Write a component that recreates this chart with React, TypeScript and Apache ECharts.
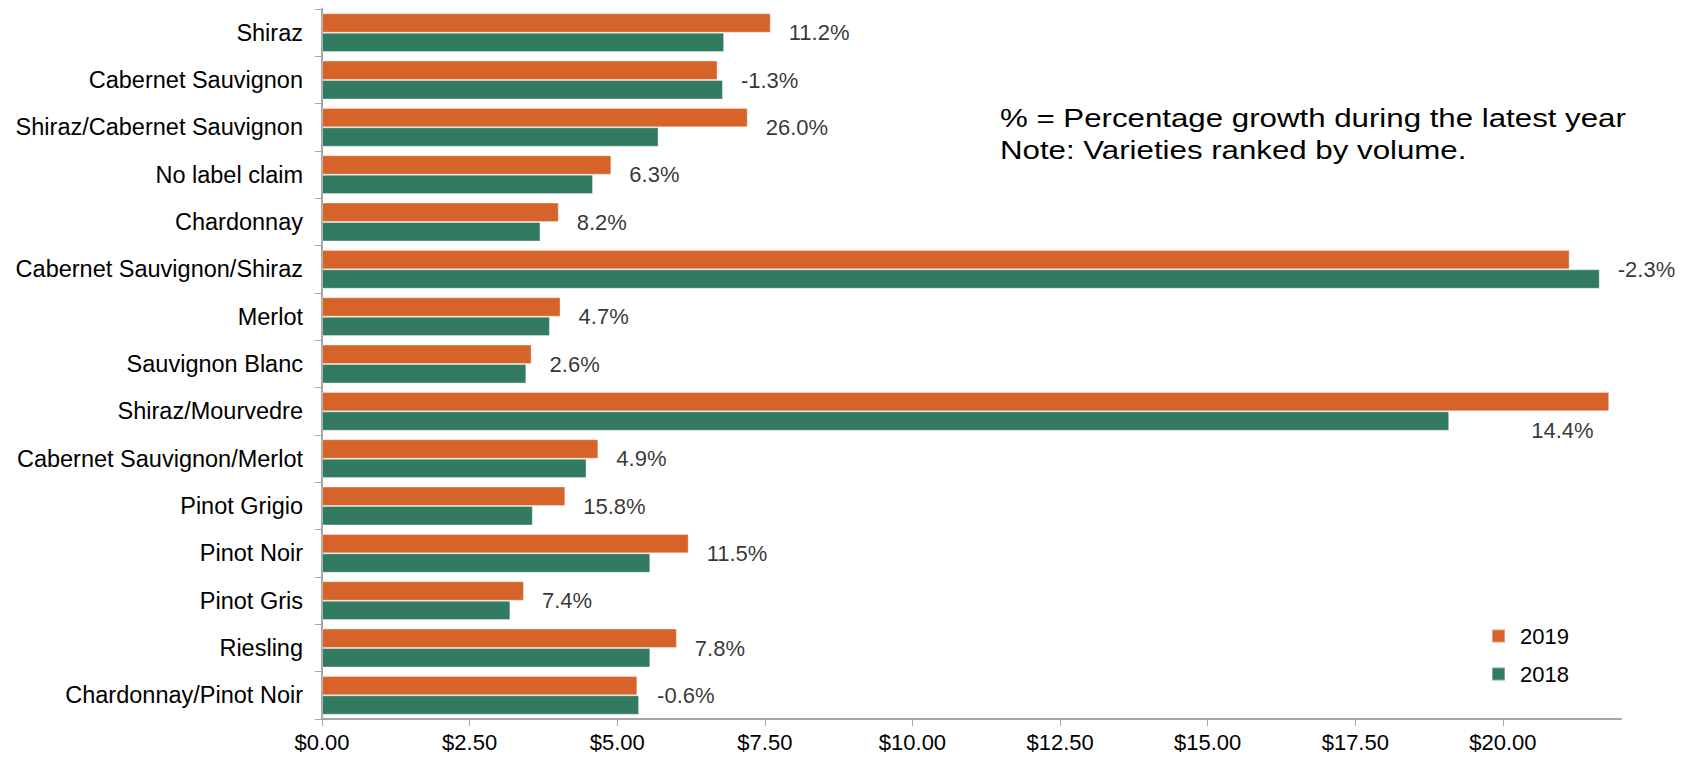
import React, { useEffect, useRef } from "react";
import * as echarts from "echarts";

const categories = [
  "Shiraz",
  "Cabernet Sauvignon",
  "Shiraz/Cabernet Sauvignon",
  "No label claim",
  "Chardonnay",
  "Cabernet Sauvignon/Shiraz",
  "Merlot",
  "Sauvignon Blanc",
  "Shiraz/Mourvedre",
  "Cabernet Sauvignon/Merlot",
  "Pinot Grigio",
  "Pinot Noir",
  "Pinot Gris",
  "Riesling",
  "Chardonnay/Pinot Noir",
];

const values2019 = [7.6, 6.7, 7.21, 4.9, 4.01, 21.13, 4.04, 3.55, 21.8, 4.68, 4.12, 6.21, 3.42, 6.01, 5.34];
const values2018 = [6.81, 6.79, 5.7, 4.59, 3.7, 21.64, 3.86, 3.46, 19.09, 4.48, 3.57, 5.56, 3.19, 5.56, 5.37];
const growthLabels = ["11.2%", "-1.3%", "26.0%", "6.3%", "8.2%", "-2.3%", "4.7%", "2.6%", "14.4%", "4.9%", "15.8%", "11.5%", "7.4%", "7.8%", "-0.6%"];

const xTicks = [0, 2.5, 5, 7.5, 10, 12.5, 15, 17.5, 20];
const seriesNames = ["2019", "2018"];
const noteLines = ["% = Percentage growth during the latest year", "Note: Varieties ranked by volume."];

const ORANGE = "#D6632A";
const GREEN = "#327B61";
const FONT = "'Liberation Sans', Arial, Helvetica, sans-serif";

export default function App() {
  const ref = useRef<HTMLDivElement>(null);

  useEffect(() => {
    if (!ref.current) return;
    const chart = echarts.init(ref.current, undefined, { renderer: "svg" });

    const labelPoints = categories.map((c, i) => {
      const item: any = { value: [Math.max(values2019[i], values2018[i]), c] };
      if (c === "Shiraz/Mourvedre") {
        item.label = { offset: [-96, 19] };
      }
      return item;
    });

    chart.setOption({
      animation: false,
      textStyle: { fontFamily: FONT },
      grid: { left: 322, top: 9, width: 1299, height: 710, containLabel: false },
      legend: {
        orient: "vertical",
        left: 1486,
        top: 620,
        itemWidth: 13,
        itemHeight: 13,
        itemGap: 16,
        icon: "rect",
        data: seriesNames,
        textStyle: { fontSize: 22, color: "#000", fontFamily: FONT, padding: [0, 0, 0, 10] },
      },
      xAxis: {
        type: "value",
        min: 0,
        max: 22,
        interval: 2.5,
        splitLine: { show: false },
        axisLine: { show: true, lineStyle: { color: "#A6A6A6", width: 2 } },
        axisTick: { show: true, length: 7, lineStyle: { color: "#A6A6A6", width: 1 }, customValues: xTicks },
        axisLabel: {
          customValues: xTicks,
          fontSize: 22,
          color: "#000",
          margin: 12,
          fontFamily: FONT,
          formatter: (v: number) => "$" + v.toFixed(2),
        },
      },
      yAxis: {
        type: "category",
        inverse: true,
        data: categories,
        axisLine: { show: true, lineStyle: { color: "#A6A6A6", width: 2 } },
        axisTick: { show: true, length: 7, lineStyle: { color: "#A6A6A6", width: 1 } },
        axisLabel: { fontSize: 23.5, color: "#000", margin: 19, fontFamily: FONT },
      },
      graphic: [
        {
          type: "text",
          x: 1000,
          y: 102,
          scaleX: 1.25,
          style: {
            text: noteLines.join("\n"),
            fontSize: 25,
            lineHeight: 32,
            fill: "#000",
            fontFamily: FONT,
          },
        },
      ],
      series: [
        {
          name: seriesNames[0],
          type: "bar",
          data: values2019,
          barGap: "0%",
          barCategoryGap: "18%",
          itemStyle: { color: ORANGE, borderColor: "rgba(255,255,255,0.35)", borderWidth: 1 },
        },
        {
          name: seriesNames[1],
          type: "bar",
          data: values2018,
          barGap: "0%",
          barCategoryGap: "18%",
          itemStyle: { color: GREEN, borderColor: "rgba(255,255,255,0.35)", borderWidth: 1 },
        },
        {
          name: "growth",
          type: "scatter",
          symbolSize: 0,
          data: labelPoints,
          silent: true,
          label: {
            show: true,
            position: "right",
            distance: 18,
            fontSize: 22,
            color: "#000",
            fontFamily: FONT,
            formatter: (p: any) => growthLabels[p.dataIndex],
          },
        },
      ],
    });

    return () => chart.dispose();
  }, []);

  return (
    <div
      ref={ref}
      style={{ position: "fixed", left: 0, top: 0, width: 1686, height: 762, background: "#fff" }}
    />
  );
}
